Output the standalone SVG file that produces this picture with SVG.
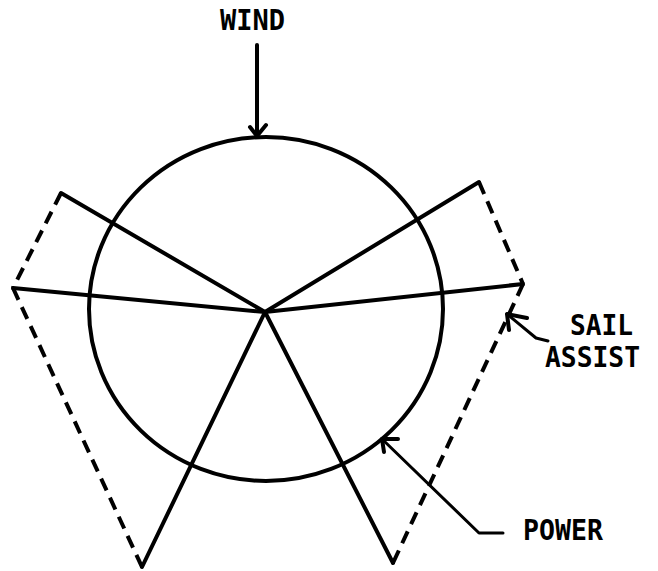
<svg xmlns="http://www.w3.org/2000/svg" width="658" height="571" viewBox="0 0 658 571">
<style>
.ln{stroke:#000;stroke-width:4;fill:none;stroke-linecap:round;stroke-linejoin:round}
.th{stroke:#000;stroke-width:3;fill:none;stroke-linecap:round;stroke-linejoin:round}
.ring{stroke:#000;stroke-width:4;fill:none}
.ds{stroke:#000;stroke-width:4;fill:none;stroke-dasharray:13 8}
.lbl{font-family:"DejaVu Sans Mono","Liberation Mono",monospace;font-weight:bold;font-size:29px;fill:#000}
</style>
<rect width="658" height="571" fill="#fff"/>
<g id="rotor">
<ellipse cx="266" cy="309" rx="177" ry="172" class="ring"/>
</g>
<g id="blades">
<line x1="265" y1="312" x2="61" y2="193" class="ln"/>
<line x1="265" y1="312" x2="13" y2="288" class="ln"/>
<line x1="265" y1="312" x2="142" y2="567" class="ln"/>
<line x1="265" y1="312" x2="479" y2="182" class="ln"/>
<line x1="265" y1="312" x2="523" y2="284" class="ln"/>
<line x1="265" y1="312" x2="393" y2="563" class="ln"/>
</g>
<g id="sail-assist-outline">
<line x1="61" y1="193" x2="13" y2="288" class="ds"/>
<line x1="13" y1="288" x2="142" y2="567" class="ds"/>
<line x1="479" y1="182" x2="523" y2="284" class="ds"/>
<line x1="523" y1="284" x2="393" y2="563" class="ds"/>
</g>
<g id="connectors">
<line x1="257" y1="45" x2="257" y2="136" class="ln"/>
<polyline points="250,127 257,136 266,125" class="ln"/>
<polyline points="548,341 536,338 507,314" class="th"/>
<polyline points="527,318 507,314 509,330" class="ln"/>
<polyline points="503,533 479,533 382,439" class="th"/>
<polyline points="398,439 382,439 384,452" class="ln"/>
</g>
<g id="label-wind"><text x="220" y="30" class="lbl" textLength="65" lengthAdjust="spacingAndGlyphs">WIND</text></g>
<g id="label-sail-assist">
<text x="570" y="335" class="lbl" textLength="63" lengthAdjust="spacingAndGlyphs">SAIL</text>
<text x="545" y="367" class="lbl" textLength="95" lengthAdjust="spacingAndGlyphs">ASSIST</text>
</g>
<g id="label-power"><text x="523" y="540" class="lbl" textLength="80" lengthAdjust="spacingAndGlyphs">POWER</text></g>
</svg>
